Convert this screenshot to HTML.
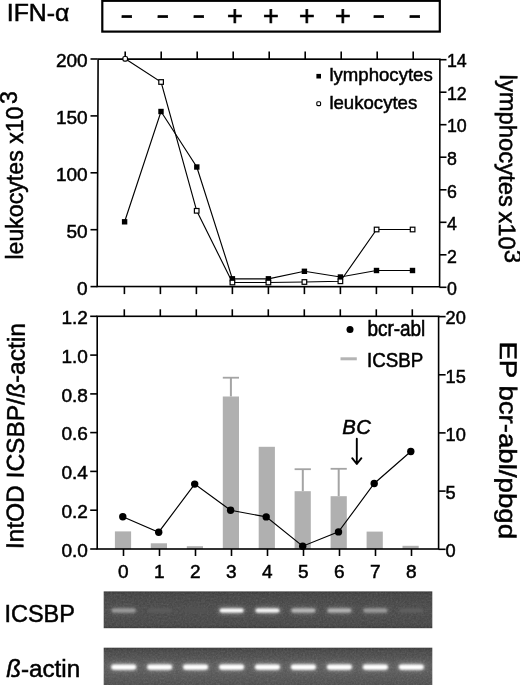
<!DOCTYPE html>
<html lang="en"><head><meta charset="utf-8"><title>IFN-α / ICSBP figure</title>
<style>html,body{margin:0;padding:0;background:#fff}body{width:520px;height:685px;overflow:hidden}svg{display:block}text{font-family:"Liberation Sans", Arial, Helvetica, sans-serif;fill:#000;stroke:#000;stroke-width:0.5px}.big{font-size:23.5px}.sm{font-size:19.0px}.ax{stroke:#000;stroke-width:1.6;fill:none}.ln{stroke:#000;stroke-width:1.15;fill:none}</style>
</head><body>
<svg width="520" height="685" viewBox="0 0 520 685">
<defs><filter id="bl" x="-5%" y="-20%" width="110%" height="140%"><feGaussianBlur stdDeviation="0.9"/></filter><filter id="bl2" x="-20%" y="-60%" width="140%" height="220%"><feGaussianBlur stdDeviation="1.1 0.8"/></filter></defs>
<rect width="520" height="685" fill="#fff"/>
<text class="big" x="6.8" y="20.7" textLength="62.6" lengthAdjust="spacingAndGlyphs">IFN-α</text>
<rect x="102.3" y="0.8" width="337.5" height="30.8" fill="#fff" stroke="#000" stroke-width="2.2"/>
<text x="126.7" y="23.1" text-anchor="middle" style="font-size:19.5px;font-weight:bold;stroke-width:0.6px">−</text>
<text x="162.7" y="23.1" text-anchor="middle" style="font-size:19.5px;font-weight:bold;stroke-width:0.6px">−</text>
<text x="198.7" y="23.1" text-anchor="middle" style="font-size:19.5px;font-weight:bold;stroke-width:0.6px">−</text>
<text x="234.8" y="24.7" text-anchor="middle" style="font-size:27px;stroke-width:0.7px">+</text>
<text x="270.8" y="24.7" text-anchor="middle" style="font-size:27px;stroke-width:0.7px">+</text>
<text x="306.8" y="24.7" text-anchor="middle" style="font-size:27px;stroke-width:0.7px">+</text>
<text x="342.8" y="24.7" text-anchor="middle" style="font-size:27px;stroke-width:0.7px">+</text>
<text x="378.7" y="23.1" text-anchor="middle" style="font-size:19.5px;font-weight:bold;stroke-width:0.6px">−</text>
<text x="414.7" y="23.1" text-anchor="middle" style="font-size:19.5px;font-weight:bold;stroke-width:0.6px">−</text>
<g id="chart1">
<path class="ax" d="M98.1 59L439.9 59.2L439.6 286.8L97.2 286.5Z"/>
<line class="ax" x1="125.2" y1="51.5" x2="125.2" y2="59.0"/>
<line class="ax" x1="124.4" y1="286.6" x2="124.4" y2="294.1"/>
<line class="ax" x1="161.2" y1="51.5" x2="161.2" y2="59.0"/>
<line class="ax" x1="160.4" y1="286.6" x2="160.4" y2="294.1"/>
<line class="ax" x1="197.2" y1="51.5" x2="197.2" y2="59.0"/>
<line class="ax" x1="196.4" y1="286.6" x2="196.4" y2="294.1"/>
<line class="ax" x1="233.2" y1="51.5" x2="233.2" y2="59.0"/>
<line class="ax" x1="232.4" y1="286.6" x2="232.4" y2="294.1"/>
<line class="ax" x1="269.2" y1="51.5" x2="269.2" y2="59.0"/>
<line class="ax" x1="268.4" y1="286.6" x2="268.4" y2="294.1"/>
<line class="ax" x1="305.2" y1="51.5" x2="305.2" y2="59.0"/>
<line class="ax" x1="304.4" y1="286.6" x2="304.4" y2="294.1"/>
<line class="ax" x1="341.2" y1="51.5" x2="341.2" y2="59.0"/>
<line class="ax" x1="340.4" y1="286.6" x2="340.4" y2="294.1"/>
<line class="ax" x1="377.2" y1="51.5" x2="377.2" y2="59.0"/>
<line class="ax" x1="376.4" y1="286.6" x2="376.4" y2="294.1"/>
<line class="ax" x1="413.2" y1="51.5" x2="413.2" y2="59.0"/>
<line class="ax" x1="412.4" y1="286.6" x2="412.4" y2="294.1"/>
<line class="ax" x1="90.5" y1="286.6" x2="97.5" y2="286.6"/>
<text class="sm" x="87.6" y="294.9" text-anchor="end">0</text>
<line class="ax" x1="90.5" y1="229.7" x2="97.5" y2="229.7"/>
<text class="sm" x="87.6" y="238.0" text-anchor="end">50</text>
<line class="ax" x1="90.5" y1="172.8" x2="97.5" y2="172.8"/>
<text class="sm" x="87.6" y="181.1" text-anchor="end">100</text>
<line class="ax" x1="90.5" y1="115.9" x2="97.5" y2="115.9"/>
<text class="sm" x="87.6" y="124.2" text-anchor="end">150</text>
<line class="ax" x1="90.5" y1="59.0" x2="97.5" y2="59.0"/>
<text class="sm" x="87.6" y="67.3" text-anchor="end">200</text>
<line class="ax" x1="439.5" y1="287.3" x2="446.5" y2="287.3"/>
<text class="sm" x="446.9" y="295.0" textLength="9.9" lengthAdjust="spacingAndGlyphs">0</text>
<line class="ax" x1="439.5" y1="254.8" x2="446.5" y2="254.8"/>
<text class="sm" x="446.9" y="262.5" textLength="9.9" lengthAdjust="spacingAndGlyphs">2</text>
<line class="ax" x1="439.5" y1="222.3" x2="446.5" y2="222.3"/>
<text class="sm" x="446.9" y="230.0" textLength="9.9" lengthAdjust="spacingAndGlyphs">4</text>
<line class="ax" x1="439.5" y1="189.8" x2="446.5" y2="189.8"/>
<text class="sm" x="446.9" y="197.5" textLength="9.9" lengthAdjust="spacingAndGlyphs">6</text>
<line class="ax" x1="439.5" y1="157.2" x2="446.5" y2="157.2"/>
<text class="sm" x="446.9" y="164.9" textLength="9.9" lengthAdjust="spacingAndGlyphs">8</text>
<line class="ax" x1="439.5" y1="124.7" x2="446.5" y2="124.7"/>
<text class="sm" x="446.9" y="132.4" textLength="19.8" lengthAdjust="spacingAndGlyphs">10</text>
<line class="ax" x1="439.5" y1="92.2" x2="446.5" y2="92.2"/>
<text class="sm" x="446.9" y="99.9" textLength="19.8" lengthAdjust="spacingAndGlyphs">12</text>
<line class="ax" x1="439.5" y1="59.7" x2="446.5" y2="59.7"/>
<text class="sm" x="446.9" y="67.4" textLength="19.8" lengthAdjust="spacingAndGlyphs">14</text>
<polyline class="ln" points="124.6,221.8 161.0,111.5 196.8,167.0 232.4,278.8 268.4,278.8 304.4,271.3 340.4,277.0 376.5,270.5 412.5,270.5"/>
<polyline class="ln" points="125.2,58.8 161.1,82.0 196.7,210.8 232.4,282.5 268.4,282.5 304.4,282.0 340.4,281.3 376.6,229.5 412.6,229.5"/>
<rect x="121.9" y="219.1" width="5.4" height="5.4" fill="#000"/>
<rect x="158.3" y="108.8" width="5.4" height="5.4" fill="#000"/>
<rect x="194.1" y="164.3" width="5.4" height="5.4" fill="#000"/>
<rect x="229.7" y="276.1" width="5.4" height="5.4" fill="#000"/>
<rect x="265.7" y="276.1" width="5.4" height="5.4" fill="#000"/>
<rect x="301.7" y="268.6" width="5.4" height="5.4" fill="#000"/>
<rect x="337.7" y="274.3" width="5.4" height="5.4" fill="#000"/>
<rect x="373.8" y="267.8" width="5.4" height="5.4" fill="#000"/>
<rect x="409.8" y="267.8" width="5.4" height="5.4" fill="#000"/>
<rect x="122.9" y="56.5" width="4.6" height="4.6" fill="#fff" stroke="#000" stroke-width="1.2" rx="1.6"/>
<rect x="158.8" y="79.7" width="4.6" height="4.6" fill="#fff" stroke="#000" stroke-width="1.2"/>
<rect x="194.4" y="208.5" width="4.6" height="4.6" fill="#fff" stroke="#000" stroke-width="1.2"/>
<rect x="230.1" y="280.2" width="4.6" height="4.6" fill="#fff" stroke="#000" stroke-width="1.2"/>
<rect x="266.1" y="280.2" width="4.6" height="4.6" fill="#fff" stroke="#000" stroke-width="1.2"/>
<rect x="302.1" y="279.7" width="4.6" height="4.6" fill="#fff" stroke="#000" stroke-width="1.2"/>
<rect x="338.1" y="279.0" width="4.6" height="4.6" fill="#fff" stroke="#000" stroke-width="1.2"/>
<rect x="374.3" y="227.2" width="4.6" height="4.6" fill="#fff" stroke="#000" stroke-width="1.2"/>
<rect x="410.3" y="227.2" width="4.6" height="4.6" fill="#fff" stroke="#000" stroke-width="1.2"/>
<rect x="316.4" y="73.9" width="4.6" height="4.6" fill="#000"/>
<text class="sm" style="font-size:18.6px" x="329.4" y="81">lymphocytes</text>
<rect x="316.8" y="101.8" width="3.8" height="3.8" rx="1" fill="#fff" stroke="#000" stroke-width="1.1"/>
<text class="sm" style="font-size:18.6px" x="329.4" y="109">leukocytes</text>
<text class="big" style="font-size:23.15px" transform="translate(23.2 259.6) rotate(-90)">leukocytes x10<tspan dy="-6.2" dx="2.6">3</tspan></text>
<text class="big" style="font-size:23.8px;word-spacing:-2px" transform="translate(500 74.6) rotate(90.4)">lymphocytes x10<tspan dy="-6.2">3</tspan></text>
</g>
<g id="chart2">
<rect x="114.9" y="531.4" width="16.2" height="17.6" fill="#b0b0b0"/>
<rect x="150.8" y="543.3" width="16.2" height="5.7" fill="#b0b0b0"/>
<rect x="186.8" y="546.2" width="16.2" height="2.8" fill="#b0b0b0"/>
<line x1="230.9" y1="377.7" x2="230.9" y2="396.5" stroke="#a4a4a4" stroke-width="2"/>
<line x1="222.8" y1="377.7" x2="239.0" y2="377.7" stroke="#a4a4a4" stroke-width="1.8"/>
<rect x="222.8" y="396.5" width="16.2" height="152.5" fill="#b0b0b0"/>
<rect x="258.7" y="446.8" width="16.2" height="102.2" fill="#b0b0b0"/>
<line x1="302.8" y1="469.2" x2="302.8" y2="491.2" stroke="#a4a4a4" stroke-width="2"/>
<line x1="294.6" y1="469.2" x2="310.9" y2="469.2" stroke="#a4a4a4" stroke-width="1.8"/>
<rect x="294.6" y="491.2" width="16.2" height="57.8" fill="#b0b0b0"/>
<line x1="338.7" y1="468.8" x2="338.7" y2="496.2" stroke="#a4a4a4" stroke-width="2"/>
<line x1="330.6" y1="468.8" x2="346.8" y2="468.8" stroke="#a4a4a4" stroke-width="1.8"/>
<rect x="330.6" y="496.2" width="16.2" height="52.8" fill="#b0b0b0"/>
<rect x="366.6" y="531.6" width="16.2" height="17.4" fill="#b0b0b0"/>
<rect x="402.5" y="545.8" width="16.2" height="3.2" fill="#b0b0b0"/>
<rect class="ax" x="97.2" y="316.3" width="341.4" height="232.7"/>
<line class="ax" x1="124.3" y1="309.3" x2="124.3" y2="316.3"/>
<line class="ax" x1="123.5" y1="549.0" x2="123.5" y2="556.0"/>
<text class="sm" x="123.4" y="577.8" text-anchor="middle">0</text>
<line class="ax" x1="160.3" y1="309.3" x2="160.3" y2="316.3"/>
<line class="ax" x1="159.5" y1="549.0" x2="159.5" y2="556.0"/>
<text class="sm" x="159.4" y="577.8" text-anchor="middle">1</text>
<line class="ax" x1="196.3" y1="309.3" x2="196.3" y2="316.3"/>
<line class="ax" x1="195.5" y1="549.0" x2="195.5" y2="556.0"/>
<text class="sm" x="195.4" y="577.8" text-anchor="middle">2</text>
<line class="ax" x1="232.3" y1="309.3" x2="232.3" y2="316.3"/>
<line class="ax" x1="231.5" y1="549.0" x2="231.5" y2="556.0"/>
<text class="sm" x="231.4" y="577.8" text-anchor="middle">3</text>
<line class="ax" x1="268.3" y1="309.3" x2="268.3" y2="316.3"/>
<line class="ax" x1="267.5" y1="549.0" x2="267.5" y2="556.0"/>
<text class="sm" x="267.4" y="577.8" text-anchor="middle">4</text>
<line class="ax" x1="304.3" y1="309.3" x2="304.3" y2="316.3"/>
<line class="ax" x1="303.5" y1="549.0" x2="303.5" y2="556.0"/>
<text class="sm" x="303.4" y="577.8" text-anchor="middle">5</text>
<line class="ax" x1="340.3" y1="309.3" x2="340.3" y2="316.3"/>
<line class="ax" x1="339.5" y1="549.0" x2="339.5" y2="556.0"/>
<text class="sm" x="339.4" y="577.8" text-anchor="middle">6</text>
<line class="ax" x1="376.3" y1="309.3" x2="376.3" y2="316.3"/>
<line class="ax" x1="375.5" y1="549.0" x2="375.5" y2="556.0"/>
<text class="sm" x="375.4" y="577.8" text-anchor="middle">7</text>
<line class="ax" x1="412.3" y1="309.3" x2="412.3" y2="316.3"/>
<line class="ax" x1="411.5" y1="549.0" x2="411.5" y2="556.0"/>
<text class="sm" x="411.4" y="577.8" text-anchor="middle">8</text>
<line class="ax" x1="90.2" y1="549.0" x2="97.2" y2="549.0"/>
<text class="sm" x="87.8" y="556.6" text-anchor="end">0.0</text>
<line class="ax" x1="90.2" y1="510.2" x2="97.2" y2="510.2"/>
<text class="sm" x="87.8" y="517.8" text-anchor="end">0.2</text>
<line class="ax" x1="90.2" y1="471.4" x2="97.2" y2="471.4"/>
<text class="sm" x="87.8" y="479.0" text-anchor="end">0.4</text>
<line class="ax" x1="90.2" y1="432.6" x2="97.2" y2="432.6"/>
<text class="sm" x="87.8" y="440.2" text-anchor="end">0.6</text>
<line class="ax" x1="90.2" y1="393.9" x2="97.2" y2="393.9"/>
<text class="sm" x="87.8" y="401.5" text-anchor="end">0.8</text>
<line class="ax" x1="90.2" y1="355.1" x2="97.2" y2="355.1"/>
<text class="sm" x="87.8" y="362.7" text-anchor="end">1.0</text>
<line class="ax" x1="90.2" y1="316.3" x2="97.2" y2="316.3"/>
<text class="sm" x="87.8" y="323.9" text-anchor="end">1.2</text>
<line class="ax" x1="438.6" y1="549.3" x2="445.6" y2="549.3"/>
<text class="sm" style="font-size:18.2px" x="445.6" y="557.0">0</text>
<line class="ax" x1="438.6" y1="491.1" x2="445.6" y2="491.1"/>
<text class="sm" style="font-size:18.2px" x="445.6" y="498.8">5</text>
<line class="ax" x1="438.6" y1="432.9" x2="445.6" y2="432.9"/>
<text class="sm" style="font-size:18.2px" x="445.6" y="440.6">10</text>
<line class="ax" x1="438.6" y1="374.8" x2="445.6" y2="374.8"/>
<text class="sm" style="font-size:18.2px" x="445.6" y="382.5">15</text>
<line class="ax" x1="438.6" y1="316.6" x2="445.6" y2="316.6"/>
<text class="sm" style="font-size:18.2px" x="445.6" y="324.3">20</text>
<polyline class="ln" points="122.8,516.8 158.7,532.2 194.7,484.1 230.6,510.3 266.2,516.9 302.7,546.2 338.5,531.9 374.2,483.5 410.8,451.5"/>
<circle cx="122.8" cy="516.8" r="3.7" fill="#000"/>
<circle cx="158.7" cy="532.2" r="3.7" fill="#000"/>
<circle cx="194.7" cy="484.1" r="3.7" fill="#000"/>
<circle cx="230.6" cy="510.3" r="3.7" fill="#000"/>
<circle cx="266.2" cy="516.9" r="3.7" fill="#000"/>
<circle cx="302.7" cy="546.2" r="3.7" fill="#000"/>
<circle cx="338.5" cy="531.9" r="3.7" fill="#000"/>
<circle cx="374.2" cy="483.5" r="3.7" fill="#000"/>
<circle cx="410.8" cy="451.5" r="3.7" fill="#000"/>
<circle cx="350" cy="329.6" r="3.5" fill="#000"/>
<text class="sm" style="font-size:18.5px" transform="translate(367.4 336) scale(1.025 1.2)">bcr-abl</text>
<line x1="340.5" y1="358.8" x2="356.8" y2="358.8" stroke="#b4b4b4" stroke-width="3"/>
<text class="sm" style="font-size:18.5px" transform="translate(367 367.2) scale(1.015 1.12)">ICSBP</text>
<text x="342.2" y="433.5" style="font-size:20.3px;font-style:italic;letter-spacing:0.5px">BC</text>
<path d="M356.8 438.7V463.6M352.2 458.2L356.8 464L361.4 458.2" stroke="#000" stroke-width="1.9" fill="none" stroke-linecap="round" stroke-linejoin="round"/>
<text class="big" style="font-size:24.5px" transform="translate(23.2 549.2) rotate(-89.6)">IntOD ICSBP/<tspan style="font-style:italic">ß</tspan>-actin</text>
<text class="big" style="font-size:24.2px" textLength="197.6" lengthAdjust="spacingAndGlyphs" transform="translate(500 341.4) rotate(90.3)">EP bcr-abl/pbgd</text>
</g>
<g id="gels">
<text class="big" x="4.4" y="622.2">ICSBP</text>
<text class="big" x="6.2" y="676.6" textLength="74" lengthAdjust="spacingAndGlyphs"><tspan style="font-style:italic">ß</tspan>-actin</text>
<defs><linearGradient id="gg1" x1="0" y1="0" x2="0" y2="1"><stop offset="0" stop-color="#383838"/><stop offset="0.08" stop-color="#444"/><stop offset="0.5" stop-color="#4b4b4b"/><stop offset="0.92" stop-color="#474747"/><stop offset="1" stop-color="#3a3a3a"/></linearGradient><linearGradient id="gg2" x1="0" y1="0" x2="0" y2="1"><stop offset="0" stop-color="#3a3a3a"/><stop offset="0.08" stop-color="#484848"/><stop offset="0.45" stop-color="#5a5a5a"/><stop offset="0.7" stop-color="#585858"/><stop offset="1" stop-color="#4e4e4e"/></linearGradient><filter id="halo" x="-40%" y="-200%" width="180%" height="500%"><feGaussianBlur stdDeviation="3 2.6"/></filter><filter id="noise" x="0" y="0" width="100%" height="100%"><feTurbulence type="fractalNoise" baseFrequency="0.55" numOctaves="2" seed="7" result="n"/><feColorMatrix in="n" type="matrix" values="0 0 0 0 1  0 0 0 0 1  0 0 0 0 1  0.22 0.22 0.22 0 -0.26"/><feComposite operator="in" in2="SourceGraphic"/></filter></defs>
<rect x="103.7" y="591.4" width="328.6" height="36.8" fill="url(#gg1)"/>
<rect x="103.7" y="647.7" width="328.6" height="38" fill="url(#gg2)"/>
<rect x="103.7" y="591.4" width="328.6" height="36.8" fill="#fff" filter="url(#noise)" opacity="0.5"/>
<rect x="103.7" y="647.7" width="328.6" height="38" fill="#fff" filter="url(#noise)" opacity="0.5"/>
<rect x="111.7" y="607.6" width="24" height="6" fill="#fff" opacity="0.14" filter="url(#halo)"/>
<rect x="111.7" y="608.6" width="24" height="4" rx="2" fill="rgb(155,155,155)" filter="url(#bl2)"/>
<rect x="147.7" y="608.6" width="24" height="4" rx="2" fill="rgb(92,92,92)" filter="url(#bl2)"/>
<rect x="183.6" y="608.6" width="24" height="4" rx="2" fill="rgb(83,83,83)" filter="url(#bl2)"/>
<rect x="219.6" y="607.6" width="24" height="6" fill="#fff" opacity="0.32" filter="url(#halo)"/>
<rect x="219.6" y="608.6" width="24" height="4" rx="2" fill="rgb(255,255,255)" filter="url(#bl2)"/>
<rect x="255.5" y="607.6" width="24" height="6" fill="#fff" opacity="0.31" filter="url(#halo)"/>
<rect x="255.5" y="608.6" width="24" height="4" rx="2" fill="rgb(249,249,249)" filter="url(#bl2)"/>
<rect x="291.4" y="607.6" width="24" height="6" fill="#fff" opacity="0.20" filter="url(#halo)"/>
<rect x="291.4" y="608.6" width="24" height="4" rx="2" fill="rgb(186,186,186)" filter="url(#bl2)"/>
<rect x="327.4" y="607.6" width="24" height="6" fill="#fff" opacity="0.19" filter="url(#halo)"/>
<rect x="327.4" y="608.6" width="24" height="4" rx="2" fill="rgb(182,182,182)" filter="url(#bl2)"/>
<rect x="363.4" y="607.6" width="24" height="6" fill="#fff" opacity="0.14" filter="url(#halo)"/>
<rect x="363.4" y="608.6" width="24" height="4" rx="2" fill="rgb(155,155,155)" filter="url(#bl2)"/>
<rect x="399.3" y="608.6" width="24" height="4" rx="2" fill="rgb(97,97,97)" filter="url(#bl2)"/>
<rect x="111.2" y="663.4" width="25" height="7" fill="#fff" opacity="0.3" filter="url(#halo)"/>
<rect x="111.2" y="664.5" width="25" height="5.2" rx="2.4" fill="#fff" filter="url(#bl2)"/>
<rect x="147.2" y="663.4" width="25" height="7" fill="#fff" opacity="0.3" filter="url(#halo)"/>
<rect x="147.2" y="664.5" width="25" height="5.2" rx="2.4" fill="#fff" filter="url(#bl2)"/>
<rect x="183.1" y="663.4" width="25" height="7" fill="#fff" opacity="0.3" filter="url(#halo)"/>
<rect x="183.1" y="664.5" width="25" height="5.2" rx="2.4" fill="#fff" filter="url(#bl2)"/>
<rect x="219.1" y="663.4" width="25" height="7" fill="#fff" opacity="0.3" filter="url(#halo)"/>
<rect x="219.1" y="664.5" width="25" height="5.2" rx="2.4" fill="#fff" filter="url(#bl2)"/>
<rect x="255.0" y="663.4" width="25" height="7" fill="#fff" opacity="0.3" filter="url(#halo)"/>
<rect x="255.0" y="664.5" width="25" height="5.2" rx="2.4" fill="#fff" filter="url(#bl2)"/>
<rect x="290.9" y="663.4" width="25" height="7" fill="#fff" opacity="0.3" filter="url(#halo)"/>
<rect x="290.9" y="664.5" width="25" height="5.2" rx="2.4" fill="#fff" filter="url(#bl2)"/>
<rect x="326.9" y="663.4" width="25" height="7" fill="#fff" opacity="0.3" filter="url(#halo)"/>
<rect x="326.9" y="664.5" width="25" height="5.2" rx="2.4" fill="#fff" filter="url(#bl2)"/>
<rect x="362.9" y="663.4" width="25" height="7" fill="#fff" opacity="0.3" filter="url(#halo)"/>
<rect x="362.9" y="664.5" width="25" height="5.2" rx="2.4" fill="#fff" filter="url(#bl2)"/>
<rect x="398.8" y="663.4" width="25" height="7" fill="#fff" opacity="0.3" filter="url(#halo)"/>
<rect x="398.8" y="664.5" width="25" height="5.2" rx="2.4" fill="#fff" filter="url(#bl2)"/>
</g>
</svg>
</body></html>
